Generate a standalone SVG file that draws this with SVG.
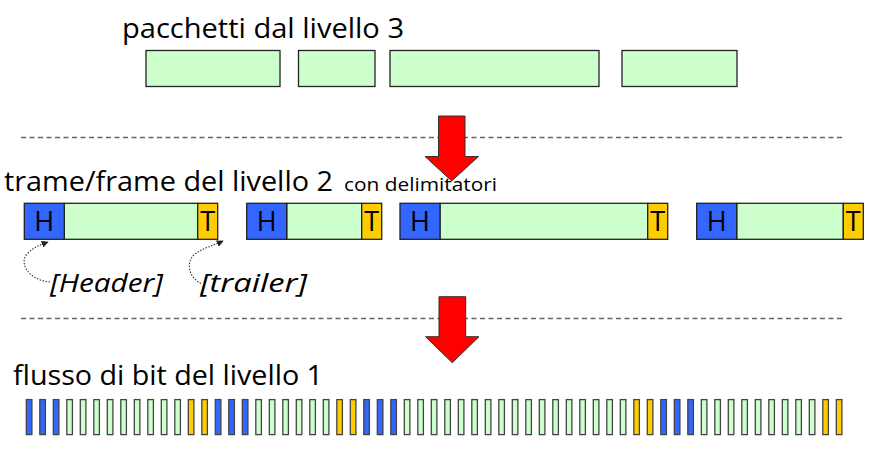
<svg xmlns="http://www.w3.org/2000/svg" width="871" height="457" viewBox="0 0 871 457">
<defs>
<style>
.t{font-family:"Open Sans","DejaVu Sans",Verdana,sans-serif;fill:#000}
.pk{fill:#CCFFCC;stroke:#222;stroke-width:1.3}
.h{fill:#3366FF;stroke:#222;stroke-width:1.3}
.p{fill:#CCFFCC;stroke:#222;stroke-width:1.3}
.tr{fill:#FFCC00;stroke:#222;stroke-width:1.3}
.b{stroke:#444;stroke-width:1.3}
.bB{fill:#3366FF}.bG{fill:#CCFFCC}.bY{fill:#FFCC00}
.dash{stroke:#666;stroke-width:1.3;stroke-dasharray:5 3.5;fill:none}
.arr{fill:#FF0000;stroke:#333;stroke-width:1}
.dot{fill:none;stroke:#333;stroke-width:1.1;stroke-dasharray:1.5 1.5}
.lt{font-family:"Open Sans","DejaVu Sans",Verdana,sans-serif;font-size:27px;text-anchor:middle}
</style>
<marker id="ah" viewBox="0 0 10 10" refX="9" refY="5" markerWidth="7" markerHeight="7" orient="auto" markerUnits="userSpaceOnUse">
<path d="M0,0 L10,5 L0,10 z" fill="#222"/>
</marker>
</defs>
<rect width="871" height="457" fill="#fff"/>

<g id="level3">
<text class="t" x="122" y="38" font-size="27" textLength="282" lengthAdjust="spacingAndGlyphs">pacchetti dal livello 3</text>
<rect class="pk" x="146" y="50.5" width="134" height="36"/>
<rect class="pk" x="298.5" y="50.5" width="76.5" height="36"/>
<rect class="pk" x="390" y="50.5" width="209" height="36"/>
<rect class="pk" x="622" y="50.5" width="115" height="36"/>
</g>

<g id="separators">
<line class="dash" x1="21" y1="137.5" x2="845" y2="137.5"/>
<line class="dash" x1="21" y1="318.5" x2="845" y2="318.5"/>
</g>

<g id="connectors">
<polygon class="arr" points="438.5,116 465,116 465,156.5 478.5,156.5 451.7,181 425,156.5 438.5,156.5"/>
<polygon class="arr" points="439,296.7 465.7,296.7 465.7,336.7 479,336.7 452.3,362.7 425.5,336.7 439,336.7"/>
<path class="dot" d="M50,282 C28,280 18,262 28,253 C34,247 40,245 48,242" marker-end="url(#ah)"/>
<path class="dot" d="M201,283.5 C189,278 185,262 195,254 C203,248 212,246 223,241" marker-end="url(#ah)"/>
</g>

<g id="level2">
<text class="t" x="4" y="191" font-size="27" textLength="329" lengthAdjust="spacingAndGlyphs">trame/frame del livello 2</text>
<text class="t" x="344" y="191" font-size="19" textLength="153" lengthAdjust="spacingAndGlyphs">con delimitatori</text>
<g id="frame1">
<rect class="p" x="64.3" y="203.3" width="133.4" height="36"/>
<rect class="h" x="24.3" y="203.3" width="40" height="36"/>
<rect class="tr" x="197.7" y="203.3" width="20" height="36"/>
<text class="lt" x="44.3" y="231">H</text><text class="lt" x="207.7" y="231">T</text>
</g>
<g id="frame2">
<rect class="p" x="286.7" y="203.3" width="75" height="36"/>
<rect class="h" x="246.7" y="203.3" width="40" height="36"/>
<rect class="tr" x="361.7" y="203.3" width="20" height="36"/>
<text class="lt" x="266.7" y="231">H</text><text class="lt" x="371.7" y="231">T</text>
</g>
<g id="frame3">
<rect class="p" x="440" y="203.3" width="207.7" height="36"/>
<rect class="h" x="400" y="203.3" width="40" height="36"/>
<rect class="tr" x="647.7" y="203.3" width="20" height="36"/>
<text class="lt" x="420" y="231">H</text><text class="lt" x="657.7" y="231">T</text>
</g>
<g id="frame4">
<rect class="p" x="736.7" y="203.3" width="106.6" height="36"/>
<rect class="h" x="696.7" y="203.3" width="40" height="36"/>
<rect class="tr" x="843.3" y="203.3" width="20" height="36"/>
<text class="lt" x="716.7" y="231">H</text><text class="lt" x="853.3" y="231">T</text>
</g>
<text class="t" x="50" y="292" font-size="26" font-style="italic" textLength="113" lengthAdjust="spacingAndGlyphs">[Header]</text>
<text class="t" x="200" y="292" font-size="26" font-style="italic" textLength="107" lengthAdjust="spacingAndGlyphs">[trailer]</text>
</g>

<g id="level1">
<text class="t" x="13" y="385" font-size="27" textLength="310" lengthAdjust="spacingAndGlyphs">flusso di bit del livello 1</text>
<g class="b">
<rect class="bB" x="26.3" y="399.6" width="5.6" height="35"/>
<rect class="bB" x="39.8" y="399.6" width="5.6" height="35"/>
<rect class="bB" x="53.3" y="399.6" width="5.6" height="35"/>
<rect class="bG" x="66.8" y="399.6" width="5.6" height="35"/>
<rect class="bG" x="80.3" y="399.6" width="5.6" height="35"/>
<rect class="bG" x="93.8" y="399.6" width="5.6" height="35"/>
<rect class="bG" x="107.3" y="399.6" width="5.6" height="35"/>
<rect class="bG" x="120.8" y="399.6" width="5.6" height="35"/>
<rect class="bG" x="134.3" y="399.6" width="5.6" height="35"/>
<rect class="bG" x="147.8" y="399.6" width="5.6" height="35"/>
<rect class="bG" x="161.3" y="399.6" width="5.6" height="35"/>
<rect class="bG" x="174.8" y="399.6" width="5.6" height="35"/>
<rect class="bY" x="188.3" y="399.6" width="5.6" height="35"/>
<rect class="bY" x="201.8" y="399.6" width="5.6" height="35"/>
<rect class="bB" x="215.3" y="399.6" width="5.6" height="35"/>
<rect class="bB" x="228.8" y="399.6" width="5.6" height="35"/>
<rect class="bB" x="242.3" y="399.6" width="5.6" height="35"/>
<rect class="bG" x="255.8" y="399.6" width="5.6" height="35"/>
<rect class="bG" x="269.3" y="399.6" width="5.6" height="35"/>
<rect class="bG" x="282.8" y="399.6" width="5.6" height="35"/>
<rect class="bG" x="296.3" y="399.6" width="5.6" height="35"/>
<rect class="bG" x="309.8" y="399.6" width="5.6" height="35"/>
<rect class="bG" x="323.3" y="399.6" width="5.6" height="35"/>
<rect class="bY" x="336.8" y="399.6" width="5.6" height="35"/>
<rect class="bY" x="350.3" y="399.6" width="5.6" height="35"/>
<rect class="bB" x="363.8" y="399.6" width="5.6" height="35"/>
<rect class="bB" x="377.3" y="399.6" width="5.6" height="35"/>
<rect class="bB" x="390.8" y="399.6" width="5.6" height="35"/>
<rect class="bG" x="404.3" y="399.6" width="5.6" height="35"/>
<rect class="bG" x="417.8" y="399.6" width="5.6" height="35"/>
<rect class="bG" x="431.3" y="399.6" width="5.6" height="35"/>
<rect class="bG" x="444.8" y="399.6" width="5.6" height="35"/>
<rect class="bG" x="458.3" y="399.6" width="5.6" height="35"/>
<rect class="bG" x="471.8" y="399.6" width="5.6" height="35"/>
<rect class="bG" x="485.3" y="399.6" width="5.6" height="35"/>
<rect class="bG" x="498.8" y="399.6" width="5.6" height="35"/>
<rect class="bG" x="512.3" y="399.6" width="5.6" height="35"/>
<rect class="bG" x="525.8" y="399.6" width="5.6" height="35"/>
<rect class="bG" x="539.3" y="399.6" width="5.6" height="35"/>
<rect class="bG" x="552.8" y="399.6" width="5.6" height="35"/>
<rect class="bG" x="566.3" y="399.6" width="5.6" height="35"/>
<rect class="bG" x="579.8" y="399.6" width="5.6" height="35"/>
<rect class="bG" x="593.3" y="399.6" width="5.6" height="35"/>
<rect class="bG" x="606.8" y="399.6" width="5.6" height="35"/>
<rect class="bG" x="620.3" y="399.6" width="5.6" height="35"/>
<rect class="bY" x="633.8" y="399.6" width="5.6" height="35"/>
<rect class="bY" x="647.3" y="399.6" width="5.6" height="35"/>
<rect class="bB" x="660.8" y="399.6" width="5.6" height="35"/>
<rect class="bB" x="674.3" y="399.6" width="5.6" height="35"/>
<rect class="bB" x="687.8" y="399.6" width="5.6" height="35"/>
<rect class="bG" x="701.3" y="399.6" width="5.6" height="35"/>
<rect class="bG" x="714.8" y="399.6" width="5.6" height="35"/>
<rect class="bG" x="728.3" y="399.6" width="5.6" height="35"/>
<rect class="bG" x="741.8" y="399.6" width="5.6" height="35"/>
<rect class="bG" x="755.3" y="399.6" width="5.6" height="35"/>
<rect class="bG" x="768.8" y="399.6" width="5.6" height="35"/>
<rect class="bG" x="782.3" y="399.6" width="5.6" height="35"/>
<rect class="bG" x="795.8" y="399.6" width="5.6" height="35"/>
<rect class="bG" x="809.3" y="399.6" width="5.6" height="35"/>
<rect class="bY" x="822.8" y="399.6" width="5.6" height="35"/>
<rect class="bY" x="836.3" y="399.6" width="5.6" height="35"/>
</g>
</g>
</svg>
